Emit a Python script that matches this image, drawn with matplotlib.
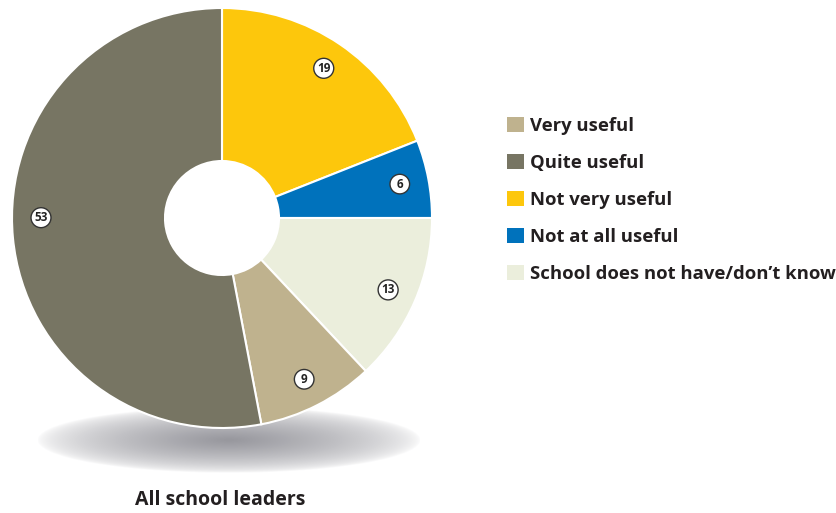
import matplotlib
matplotlib.use('Agg')
import matplotlib.pyplot as plt
import numpy as np

plt.rcParams['font.family'] = ['Open Sans', 'DejaVu Sans']

# slices in drawing order, clockwise from 12 o'clock
categories = ['Not very useful', 'Not at all useful', 'School does not have/don\u2019t know',
              'Very useful', 'Quite useful']
values = [19, 6, 13, 9, 53]
colors = ['#FDC70C', '#0072BC', '#EBEEDC', '#BFB28E', '#777563']
legend_order = ['Very useful', 'Quite useful', 'Not very useful', 'Not at all useful',
                'School does not have/don\u2019t know']
title = 'All school leaders'

W, H = 837, 513
fig = plt.figure(figsize=(W / 100, H / 100), dpi=100)
ax = fig.add_axes([0, 0, 1, 1])

cx, cy, R, r_hole = 222, H - 218, 210, 57

# soft grey shadow under the ring
sx, sy, sa, sb = 229, H - 440, 192, 33
gx = np.linspace(-1, 1, 400)
gy = np.linspace(-1, 1, 120)
GX, GY = np.meshgrid(gx, gy)
d = np.sqrt(GX ** 2 + GY ** 2)
alpha = np.clip(1 - d, 0, 1) ** 0.6 * 0.8
img = np.zeros((120, 400, 4))
img[..., 0] = 0.49
img[..., 1] = 0.49
img[..., 2] = 0.52
img[..., 3] = alpha
ax.imshow(img, extent=(sx - sa, sx + sa, sy - sb, sy + sb), zorder=1,
          interpolation='bilinear', aspect='auto')

wedges, _ = ax.pie(values, colors=colors, startangle=90, counterclock=False,
                   center=(cx, cy), radius=R, frame=True,
                   wedgeprops=dict(width=R - r_hole, edgecolor='white', linewidth=1.5))
for w in wedges:
    w.set_zorder(2)
ax.set_xlim(0, W)
ax.set_ylim(0, H)
ax.set_aspect('auto')
ax.axis('off')

# value markers (the big slice's marker sits level with the centre)
nudge = [0, 0, 0, 0, -5.5]
start = 90
for v, dn in zip(values, nudge):
    mid = np.deg2rad(start - v / 2 * 3.6 + dn)
    start -= v * 3.6
    ax.text(cx + 181 * np.cos(mid), cy + 181 * np.sin(mid), str(v),
            ha='center', va='center', fontsize=8.5, fontweight='bold', color='#222222',
            zorder=4,
            bbox=dict(boxstyle='circle,pad=0.28', fc='white', ec='#333333', lw=1.0))

handles = [wedges[categories.index(c)] for c in legend_order]
leg = ax.legend(handles, legend_order, loc='upper left', bbox_to_anchor=(507 / W, 1 - 117 / H),
                frameon=False, fontsize=13.3, handlelength=0.9, handleheight=0.9,
                handletextpad=0.33, labelspacing=1.02, borderaxespad=0, borderpad=0)
for t in leg.get_texts():
    t.set_fontweight('bold')
    t.set_color('#231F20')
for h in leg.legend_handles:
    h.set_edgecolor('none')

ax.text(220, H - 500, title, ha='center', va='center', fontsize=14,
        fontweight='bold', color='#231F20')

fig.savefig('out.png', dpi=100)
